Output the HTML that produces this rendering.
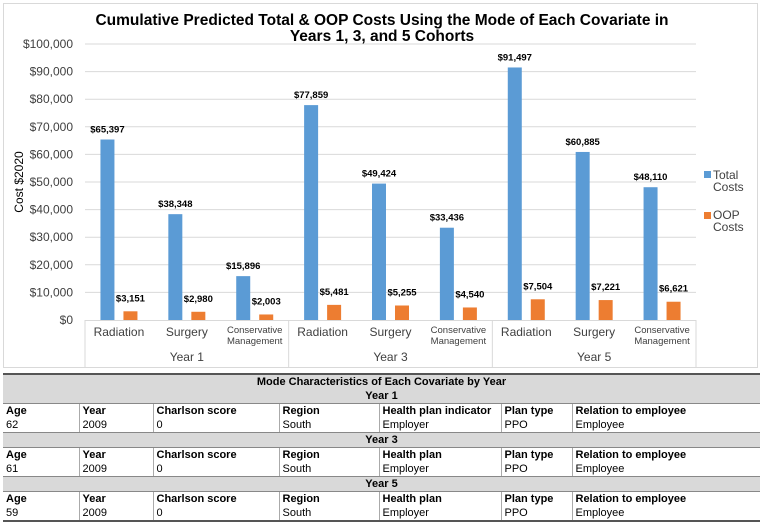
<!DOCTYPE html>
<html><head><meta charset="utf-8">
<style>
body{margin:0;width:763px;height:526px;background:#fff;font-family:"Liberation Sans",Arial,sans-serif;overflow:hidden;position:relative}
#chart{position:absolute;left:0;top:0}
table{position:absolute;left:3px;top:373px;width:757px;border-collapse:collapse;font-size:11px;color:#000}
td{height:14px;padding:0 3px;border-left:1px solid #aaa;line-height:13px;white-space:nowrap}
td:first-child{border-left:none}
tr.gray td{background:#d9d9d9;text-align:center;font-weight:bold;border-left:none}
tr.hdr td{font-weight:bold;border-top:1px solid #888}
tr.dat td{border-bottom:1px solid #888}
table{border-top:2px solid #555;border-bottom:2px solid #555}
</style></head><body>
<svg id="chart" width="763" height="372"></svg>
<table>
<colgroup><col style="width:76px"><col style="width:74px"><col style="width:126px"><col style="width:100px"><col style="width:122px"><col style="width:71px"><col></colgroup>
<tr class="gray"><td colspan="7">Mode Characteristics of Each Covariate by Year</td></tr>
<tr class="gray"><td colspan="7">Year 1</td></tr>
<tr class="hdr"><td>Age</td><td>Year</td><td>Charlson score</td><td>Region</td><td>Health plan indicator</td><td>Plan type</td><td>Relation to employee</td></tr>
<tr class="dat"><td>62</td><td>2009</td><td>0</td><td>South</td><td>Employer</td><td>PPO</td><td>Employee</td></tr>
<tr class="gray"><td colspan="7">Year 3</td></tr>
<tr class="hdr"><td>Age</td><td>Year</td><td>Charlson score</td><td>Region</td><td>Health plan</td><td>Plan type</td><td>Relation to employee</td></tr>
<tr class="dat"><td>61</td><td>2009</td><td>0</td><td>South</td><td>Employer</td><td>PPO</td><td>Employee</td></tr>
<tr class="gray"><td colspan="7">Year 5</td></tr>
<tr class="hdr"><td>Age</td><td>Year</td><td>Charlson score</td><td>Region</td><td>Health plan</td><td>Plan type</td><td>Relation to employee</td></tr>
<tr class="dat"><td>59</td><td>2009</td><td>0</td><td>South</td><td>Employer</td><td>PPO</td><td>Employee</td></tr>
</table>
<script>
const categories=["Radiation","Surgery","Conservative Management","Radiation","Surgery","Conservative Management","Radiation","Surgery","Conservative Management"];
const groups=["Year 1","Year 3","Year 5"];
const totalCosts=[65397,38348,15896,77859,49424,33436,91497,60885,48110];
const oopCosts=[3151,2980,2003,5481,5255,4540,7504,7221,6621];
const yTicks=[0,10000,20000,30000,40000,50000,60000,70000,80000,90000,100000];

const NS="http://www.w3.org/2000/svg";
const svg=document.getElementById('chart');
const X0=85,X1=696,Y0=320,Y1=44,YMAX=100000;
const cw=(X1-X0)/categories.length;
const yS=v=>Y0-(v/YMAX)*(Y0-Y1);
const xC=i=>X0+cw*(i+0.5);
function el(t,a,txt){const e=document.createElementNS(NS,t);for(const k in a)e.setAttribute(k,a[k]);if(txt!==undefined)e.textContent=txt;svg.appendChild(e);return e;}
const fmt=v=>'$'+v.toLocaleString('en-US');

let b=el('rect',{x:3.5,y:3.5,width:754,height:364,fill:'none',stroke:'#d9d9d9'});


let t=el('text',{x:382,y:25,'text-anchor':'middle','font-size':'15.5','font-weight':'bold'},'Cumulative Predicted Total & OOP Costs Using the Mode of Each Covariate in');


t=el('text',{x:382,y:41,'text-anchor':'middle','font-size':'15.5','font-weight':'bold'},'Years 1, 3, and 5 Cohorts');



yTicks.forEach(v=>{
  const y=yS(v);
  if(v>0){const g=el('line',{x1:X0,x2:X1,y1:y,y2:y,stroke:'#d9d9d9'});
  
  }
  const l=el('text',{x:73,y:y+4,'text-anchor':'end','font-size':'12',fill:'#404040'},fmt(v));
  
  
});
t=el('text',{x:0,y:0,'text-anchor':'middle','font-size':'12',transform:`translate(23,${(Y0+Y1)/2}) rotate(-90)`},'Cost $2020');



// axis line
let ax=el('line',{x1:X0,x2:X1,y1:Y0+0.5,y2:Y0+0.5,stroke:'#d9d9d9'});


for(let g=0;g<=groups.length;g++){
  const x=X0+cw*3*g;
  const s=el('line',{x1:x,x2:x,y1:Y0,y2:368,stroke:'#d9d9d9'});
  
  
  if(g<groups.length){
    const gl=el('text',{x:X0+cw*3*(g+0.5),y:361,'text-anchor':'middle','font-size':'12',fill:'#404040'},groups[g]);
    
    
  }
}
categories.forEach((c,i)=>{
  const cx=xC(i);
  if(c==="Conservative Management"){
    let a=el('text',{x:cx,y:333,'text-anchor':'middle','font-size':'9.5',fill:'#404040'},'Conservative');
    
    
    a=el('text',{x:cx,y:344,'text-anchor':'middle','font-size':'9.5',fill:'#404040'},'Management');
    
    
  } else {
    const a=el('text',{x:cx,y:336,'text-anchor':'middle','font-size':'12',fill:'#404040'},c);
    
    
  }
  const bw=14;
  const r1=el('rect',{x:cx-11.5-bw/2,y:yS(totalCosts[i]),width:bw,height:Y0-yS(totalCosts[i]),fill:'#5b9bd5'});
  
  
  const l1=el('text',{x:cx-11.5,y:yS(totalCosts[i])-7,'text-anchor':'middle','font-size':'9.5','font-weight':'bold'},fmt(totalCosts[i]));
  
  
  const r2=el('rect',{x:cx+11.5-bw/2,y:yS(oopCosts[i]),width:bw,height:Y0-yS(oopCosts[i]),fill:'#ed7d31'});
  
  
  const l2=el('text',{x:cx+11.5,y:yS(oopCosts[i])-10,'text-anchor':'middle','font-size':'9.5','font-weight':'bold'},fmt(oopCosts[i]));
  
  
});
// legend
let lr=el('rect',{x:704,y:171,width:7,height:7,fill:'#5b9bd5'});


let lt=el('text',{x:713,y:179,'font-size':'12',fill:'#404040'},'Total');


lt=el('text',{x:713,y:191,'font-size':'12',fill:'#404040'},'Costs');


lr=el('rect',{x:704,y:212,width:7,height:7,fill:'#ed7d31'});


lt=el('text',{x:713,y:219,'font-size':'12',fill:'#404040'},'OOP');


lt=el('text',{x:713,y:231,'font-size':'12',fill:'#404040'},'Costs');


</script>
</body></html>
